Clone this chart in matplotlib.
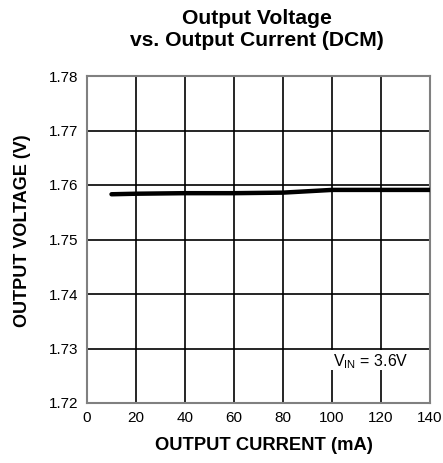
import matplotlib
matplotlib.use("Agg")
import matplotlib.pyplot as plt
from matplotlib.patches import Rectangle

current_mA = [10, 20, 40, 60, 80, 100, 120, 140]
vout_V = [1.7583, 1.7584, 1.7585, 1.7585, 1.7586, 1.7591, 1.7591, 1.7591]
xticks = [0, 20, 40, 60, 80, 100, 120, 140]
yticks = [1.72, 1.73, 1.74, 1.75, 1.76, 1.77, 1.78]

plt.rcParams['font.family'] = ['Liberation Sans', 'DejaVu Sans']

fig = plt.figure(figsize=(4.43, 4.63), dpi=100)
ax = fig.add_axes([87/443, 60/463, 343/443, 327/463])

ax.plot(current_mA, vout_V, color='black', lw=3.2, solid_capstyle='round', zorder=3)
ax.set_xlim(0, 140)
ax.set_ylim(1.72, 1.78)
ax.set_xticks(xticks)
ax.set_yticks(yticks)
ax.set_yticklabels([f"{v:.2f}" for v in yticks])
ax.grid(True, color='black', lw=1.2)
ax.tick_params(length=0, labelsize=11, pad=6)
for s in ax.spines.values():
    s.set_color('#808080')
    s.set_linewidth(1.5)

ax.set_xlabel('OUTPUT CURRENT (mA)', fontsize=13.2, fontweight='bold', va='center')
ax.xaxis.set_label_coords((263.5 - 87) / 343, (403 - 445) / 327)
ax.set_ylabel('OUTPUT VOLTAGE (V)', fontsize=13, fontweight='bold', va='center')
ax.yaxis.set_label_coords((23 - 87) / 343, (403 - 231) / 327)
fig.text(257/443, 1 - 18/463, 'Output Voltage', ha='center', va='center',
         fontsize=15.2, fontweight='bold')
fig.text(257/443, 1 - 40/463, 'vs. Output Current (DCM)', ha='center', va='center',
         fontsize=15.2, fontweight='bold')

ax.add_patch(Rectangle((97.5, 1.7261), 41.5, 0.0036, facecolor='white', edgecolor='none', zorder=2.5))
ax.text(100.6, 1.7275, r'V$_{\mathregular{IN}}$ = 3.6V', ha='left', va='center', fontsize=11.5, zorder=4)

fig.savefig('out.png', dpi=100)
